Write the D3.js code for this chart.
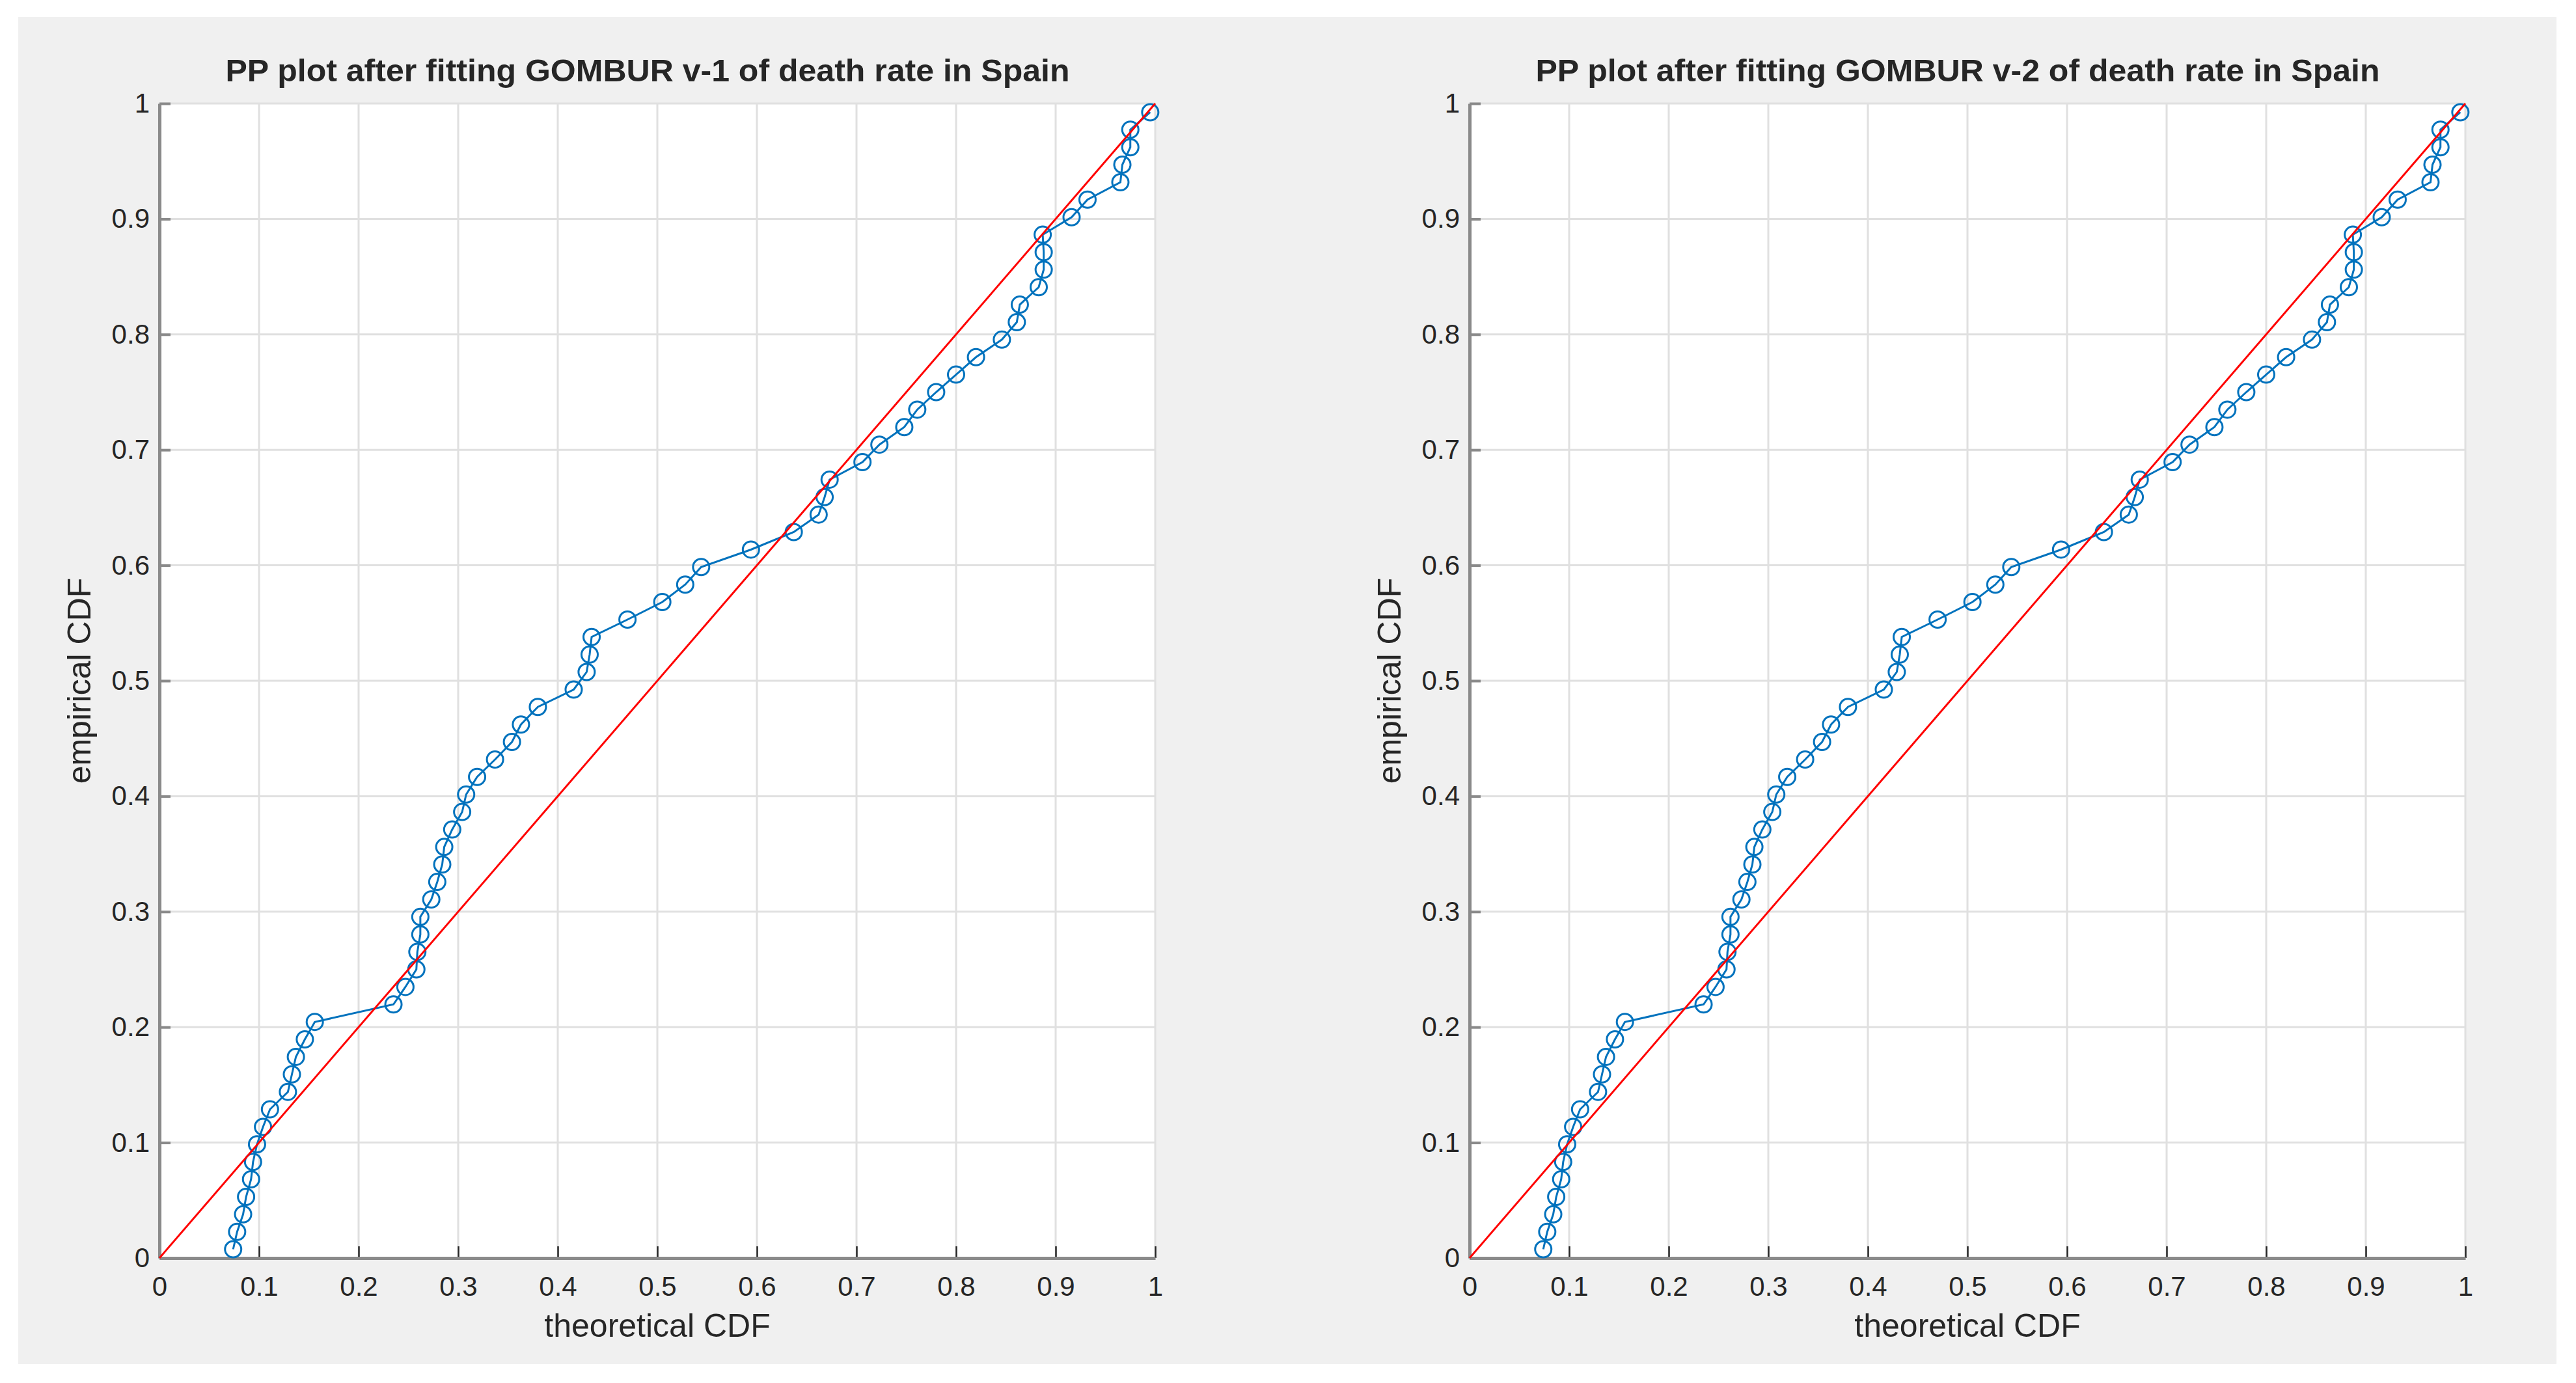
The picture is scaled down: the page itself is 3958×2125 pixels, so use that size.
<!DOCTYPE html>
<html>
  <head>
    <meta http-equiv="Content-type" content="text/html; charset=utf-8"/>
    <title>PP plots</title>
    <script src="https://d3js.org/d3.v7.min.js"></script>
    <style>
      body{
        margin: 0;
        background: #ffffff;
      }
      svg text{
        font-family: "Liberation Sans", Arial, Helvetica, sans-serif;
        fill: #262626;
      }
    </style>
  </head>
  <body>
    <svg width="3958" height="2125"></svg>
    <script>
      // ### Data ###
      var titles = ["PP plot after fitting GOMBUR v-1 of death rate in Spain",
                    "PP plot after fitting GOMBUR v-2 of death rate in Spain"];
      var xLabel = "theoretical CDF";
      var yLabel = "empirical CDF";
      var tickValues = [0, 0.1, 0.2, 0.3, 0.4, 0.5, 0.6, 0.7, 0.8, 0.9, 1];
      var tickLabels = ["0", "0.1", "0.2", "0.3", "0.4", "0.5", "0.6", "0.7", "0.8", "0.9", "1"];

      // empirical CDF (same for both fits)
      var empirical = [0.0076, 0.0227, 0.0379, 0.0530, 0.0682, 0.0833, 0.0985, 0.1136, 0.1288, 0.1439,
                       0.1591, 0.1742, 0.1894, 0.2045, 0.2197, 0.2348, 0.2500, 0.2652, 0.2803, 0.2955,
                       0.3106, 0.3258, 0.3409, 0.3561, 0.3712, 0.3864, 0.4015, 0.4167, 0.4318, 0.4470,
                       0.4621, 0.4773, 0.4924, 0.5076, 0.5227, 0.5379, 0.5530, 0.5682, 0.5833, 0.5985,
                       0.6136, 0.6288, 0.6439, 0.6591, 0.6742, 0.6894, 0.7045, 0.7197, 0.7348, 0.7500,
                       0.7652, 0.7803, 0.7955, 0.8106, 0.8258, 0.8409, 0.8561, 0.8712, 0.8864, 0.9015,
                       0.9167, 0.9318, 0.9470, 0.9621, 0.9773, 0.9924];

      // theoretical CDF, GOMBUR v-1
      var theoreticalV1 = [0.074, 0.078, 0.084, 0.087, 0.092, 0.094, 0.098, 0.104, 0.111, 0.129,
                           0.133, 0.137, 0.146, 0.156, 0.235, 0.247, 0.258, 0.259, 0.262, 0.262,
                           0.273, 0.279, 0.284, 0.286, 0.294, 0.304, 0.308, 0.319, 0.337, 0.354,
                           0.363, 0.380, 0.416, 0.429, 0.432, 0.434, 0.470, 0.505, 0.528, 0.544,
                           0.594, 0.637, 0.662, 0.668, 0.673, 0.706, 0.723, 0.748, 0.761, 0.780,
                           0.800, 0.820, 0.846, 0.861, 0.864, 0.883, 0.888, 0.888, 0.887, 0.916,
                           0.932, 0.965, 0.967, 0.975, 0.975, 0.995];

      // theoretical CDF, GOMBUR v-2
      var theoreticalV2 = [0.074, 0.078, 0.084, 0.087, 0.092, 0.094, 0.098, 0.104, 0.111, 0.129,
                           0.133, 0.137, 0.146, 0.156, 0.235, 0.247, 0.258, 0.259, 0.262, 0.262,
                           0.273, 0.279, 0.284, 0.286, 0.294, 0.304, 0.308, 0.319, 0.337, 0.354,
                           0.363, 0.380, 0.416, 0.429, 0.432, 0.434, 0.470, 0.505, 0.528, 0.544,
                           0.594, 0.637, 0.662, 0.668, 0.673, 0.706, 0.723, 0.748, 0.761, 0.780,
                           0.800, 0.820, 0.846, 0.861, 0.864, 0.883, 0.888, 0.888, 0.887, 0.916,
                           0.932, 0.965, 0.967, 0.975, 0.975, 0.995];

      // reference line
      var refLine = [[0, 0], [1, 1]];

      // ### Layout ###
      var svg = d3.select("svg");
      var panelLeft = [245, 2258],
          panelWidth = 1530,
          plotTop = 159,
          plotBottom = 1933;

      svg.append("rect")
          .attr("x", 28).attr("y", 26)
          .attr("width", 3900).attr("height", 2070)
          .attr("fill", "#f0f0f0");

      var y = d3.scaleLinear().domain([0, 1]).range([plotBottom, plotTop]);

      function drawPanel(left, title, xs){
        var x = d3.scaleLinear().domain([0, 1]).range([left, left + panelWidth]);
        var pts = xs.map(function(v, i){ return [v, empirical[i]]; });
        var g = svg.append("g");

        g.append("rect")
            .attr("x", x(0)).attr("y", y(1))
            .attr("width", x(1) - x(0)).attr("height", y(0) - y(1))
            .attr("fill", "#ffffff");

        // grid
        g.append("g").selectAll("line.gx")
          .data(tickValues.slice(1)).enter().append("line")
            .attr("x1", function(d){ return x(d); }).attr("x2", function(d){ return x(d); })
            .attr("y1", y(0)).attr("y2", y(1))
            .attr("stroke", "#e0e0e0").attr("stroke-width", 3);
        g.append("g").selectAll("line.gy")
          .data(tickValues.slice(1)).enter().append("line")
            .attr("x1", x(0)).attr("x2", x(1))
            .attr("y1", function(d){ return y(d); }).attr("y2", function(d){ return y(d); })
            .attr("stroke", "#e0e0e0").attr("stroke-width", 3);

        // axes
        var xAxis = g.append("g")
            .attr("transform", "translate(0," + plotBottom + ")")
            .call(d3.axisBottom(x)
              .tickValues(tickValues)
              .tickFormat(function(d, i){ return tickLabels[i]; })
              .tickSizeInner(-18).tickSizeOuter(0).tickPadding(28));
        xAxis.select(".domain").attr("stroke", "#8a8a8a").attr("stroke-width", 5);
        xAxis.selectAll(".tick line").attr("stroke", "#262626").attr("stroke-width", 2.5);
        xAxis.selectAll(".tick text").attr("font-size", 42).attr("fill", "#262626");

        var yAxis = g.append("g")
            .attr("transform", "translate(" + left + ",0)")
            .call(d3.axisLeft(y)
              .tickValues(tickValues)
              .tickFormat(function(d, i){ return tickLabels[i]; })
              .tickSizeInner(-17).tickSizeOuter(0).tickPadding(15));
        yAxis.select(".domain").attr("stroke", "#8a8a8a").attr("stroke-width", 5);
        yAxis.selectAll(".tick line").attr("stroke", "#8a8a8a").attr("stroke-width", 4);
        yAxis.selectAll(".tick text").attr("font-size", 42).attr("fill", "#262626");
        svg.selectAll(".tick text").attr("font-family", null);
        g.selectAll(".domain, .tick line").raise();

        // data line + circles
        var line = d3.line()
            .x(function(d){ return x(d[0]); })
            .y(function(d){ return y(d[1]); });

        g.append("path")
            .datum(pts)
            .attr("fill", "none")
            .attr("stroke", "#0072bd")
            .attr("stroke-width", 3)
            .attr("d", line);

        g.append("g").selectAll("circle")
          .data(pts).enter().append("circle")
            .attr("cx", function(d){ return x(d[0]); })
            .attr("cy", function(d){ return y(d[1]); })
            .attr("r", 12.5)
            .attr("fill", "none")
            .attr("stroke", "#0072bd")
            .attr("stroke-width", 3);

        g.append("path")
            .datum(refLine)
            .attr("fill", "none")
            .attr("stroke", "#ff0000")
            .attr("stroke-width", 3)
            .attr("d", line);

        // texts
        g.append("text")
            .attr("x", (x(0) + x(1)) / 2 - 15).attr("y", 125)
            .attr("text-anchor", "middle")
            .attr("font-size", 48).attr("font-weight", "bold")
            .attr("textLength", 1297).attr("lengthAdjust", "spacingAndGlyphs")
            .attr("fill", "#000000")
            .text(title);

        g.append("text")
            .attr("x", (x(0) + x(1)) / 2).attr("y", 2054)
            .attr("text-anchor", "middle")
            .attr("font-size", 50)
            .text(xLabel);

        g.append("text")
            .attr("transform", "translate(" + (left - 106) + "," + ((y(0) + y(1)) / 2) + ") rotate(-90)")
            .attr("text-anchor", "middle")
            .attr("font-size", 50)
            .text(yLabel);
      }

      drawPanel(panelLeft[0], titles[0], theoreticalV1);
      drawPanel(panelLeft[1], titles[1], theoreticalV2);
    </script>
  </body>
</html>
